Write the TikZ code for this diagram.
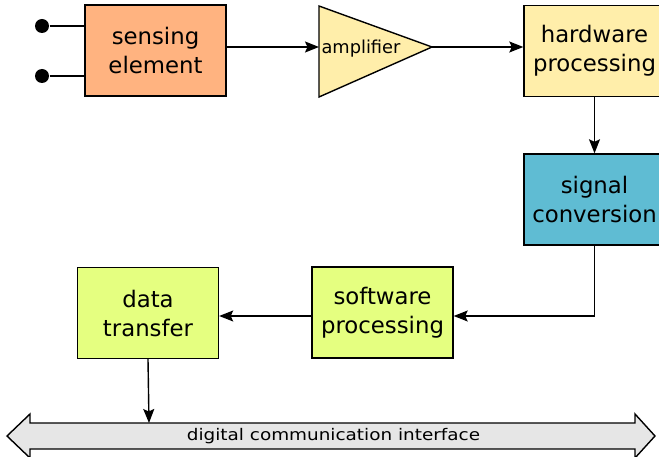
\documentclass[tikz,border=0pt]{standalone}
\usepackage{fontspec}
\setmainfont{DejaVu Sans}
\usetikzlibrary{arrows.meta,calc}
\definecolor{cpeach}{HTML}{FFB380}
\definecolor{cyell}{HTML}{FFEEAA}
\definecolor{cblue}{HTML}{5FBCD3}
\definecolor{cgreen}{HTML}{E5FF80}
\definecolor{cgrey}{HTML}{E6E6E6}
\begin{document}
\begin{tikzpicture}[x=1pt,y=-1pt,line width=1.4pt,
  block/.style={draw=black,rectangle,minimum width=141pt,minimum height=91pt,inner sep=0pt,align=center,
    font=\fontsize{22.8}{29}\selectfont},
  arr/.style={-{Stealth[length=14pt,width=11pt,inset=2.5pt]}},
  dot/.style={circle,fill=black,minimum size=14pt,inner sep=0pt}]
\useasboundingbox (0,0) rectangle (659,457);
% nodes
\node[block,fill=cpeach] (sensing) at (155.5,50.5) {sensing\\element};
\node[block,fill=cyell] (hw) at (594.5,51) {hardware\\processing};
\node[block,fill=cblue] (signal) at (594.5,199.5) {signal\\conversion};
\node[block,fill=cgreen] (software) at (382.5,312.5) {software\\processing};
\node[block,fill=cgreen] (data) at (148,313) {data\\transfer};
\node[dot] (dot1) at (42,26) {};
\node[dot] (dot2) at (42,76) {};
% amplifier
\coordinate (ampin) at (319,47);
\coordinate (ampout) at (432,47);
\draw[fill=cyell,line join=miter] (319,6) -- (ampout) -- (319,97) -- cycle;
\node[font=\fontsize{17.8}{20}\selectfont,inner sep=0pt] (amp) at (361,49) {amplifier};
% bus
\draw[fill=cgrey,line join=miter] (7,436) -- (30,414) -- (30,423) -- (635,423) -- (635,414) -- (655,436)
  -- (635,458) -- (635,449) -- (30,449) -- (30,458) -- cycle;
\node[inner sep=0pt] (bus) at (333.5,436) {\fontsize{16}{18}\selectfont\scalebox{1.15}[1]{digital communication interface}};
\coordinate (busTop) at (149,423);
% connectors
\draw (dot1) -- (dot1 -| sensing.west);
\draw (dot2) -- (dot2 -| sensing.west);
\draw[arr] (sensing.east |- ampin) -- (ampin);
\draw[arr] (ampout) -- (ampout -| hw.west);
\draw[arr] (hw.south) -- (signal.north);
\draw[arr] (signal.south) |- ([yshift=-3.5pt]software.east);
\draw[arr] ([yshift=-3.5pt]software.west) -- ([yshift=-3pt]data.east);
\draw[arr] (data.south) -- (busTop);
\end{tikzpicture}
\end{document}
